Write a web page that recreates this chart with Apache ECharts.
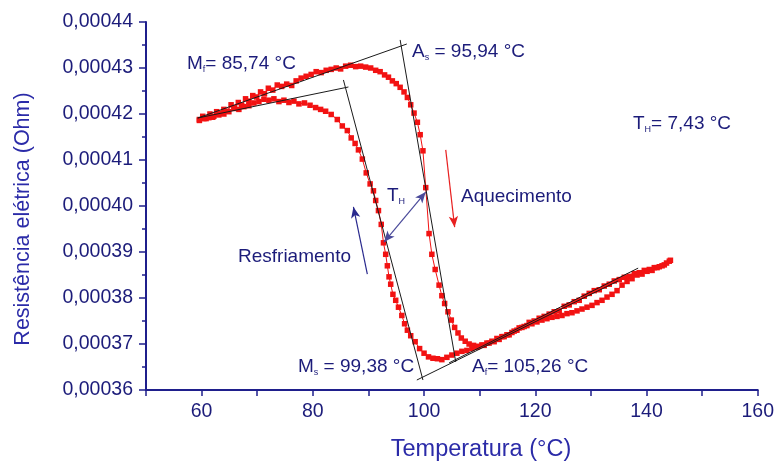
<!DOCTYPE html>
<html><head><meta charset="utf-8">
<script src="https://cdn.jsdelivr.net/npm/echarts@6/dist/echarts.min.js"></script>
<style>html,body{margin:0;padding:0;background:#fff}#c{width:777px;height:461px}</style>
</head><body><div id="c"></div>
<script>
// Heating (Aquecimento) branch: temperature (°C) and resistance (Ohm)
const heatT = [59.6,60.2,60.8,61.5,62.0,62.7,63.3,64.0,64.6,65.3,65.9,66.6,67.2,67.9,68.5,69.2,69.9,70.6,71.3,72.0,72.8,73.6,74.4,75.3,76.2,77.0,77.9,78.8,79.7,80.6,81.5,82.4,83.3,84.2,85.0,85.9,86.8,87.7,88.6,89.5,90.4,91.3,92.1,92.9,93.6,94.3,95.0,95.7,96.4,97.0,97.6,98.2,98.8,99.3,99.8,100.3,100.9,101.4,102.0,102.7,103.2,103.7,104.3,104.9,105.5,106.1,106.7,107.4,108.1,108.9,109.8,110.8,111.7,112.6,113.5,114.4,115.3,116.2,117.1,118.0,118.9,119.8,120.7,121.6,122.5,123.4,124.3,125.2,126.1,127.0,127.9,128.8,129.7,130.6,131.5,132.4,133.3,134.2,135.1,136.0,136.9,137.8,138.7,139.6,140.5,141.4,142.3,143.2,144.1];
const heatR = [4.188e-4,4.195e-4,4.190e-4,4.200e-4,4.193e-4,4.205e-4,4.202e-4,4.210e-4,4.206e-4,4.220e-4,4.214e-4,4.225e-4,4.219e-4,4.233e-4,4.228e-4,4.240e-4,4.237e-4,4.248e-4,4.244e-4,4.256e-4,4.252e-4,4.263e-4,4.260e-4,4.265e-4,4.262e-4,4.272e-4,4.278e-4,4.282e-4,4.286e-4,4.292e-4,4.290e-4,4.295e-4,4.297e-4,4.300e-4,4.298e-4,4.304e-4,4.306e-4,4.303e-4,4.304e-4,4.302e-4,4.300e-4,4.295e-4,4.292e-4,4.285e-4,4.280e-4,4.272e-4,4.266e-4,4.258e-4,4.248e-4,4.236e-4,4.220e-4,4.202e-4,4.182e-4,4.155e-4,4.120e-4,4.040e-4,3.940e-4,3.895e-4,3.862e-4,3.828e-4,3.805e-4,3.788e-4,3.770e-4,3.752e-4,3.736e-4,3.724e-4,3.713e-4,3.706e-4,3.700e-4,3.697e-4,3.695e-4,3.697e-4,3.702e-4,3.705e-4,3.710e-4,3.716e-4,3.720e-4,3.728e-4,3.735e-4,3.738e-4,3.747e-4,3.750e-4,3.756e-4,3.760e-4,3.765e-4,3.770e-4,3.772e-4,3.782e-4,3.785e-4,3.792e-4,3.795e-4,3.804e-4,3.810e-4,3.816e-4,3.818e-4,3.826e-4,3.830e-4,3.837e-4,3.840e-4,3.845e-4,3.847e-4,3.853e-4,3.855e-4,3.860e-4,3.862e-4,3.866e-4,3.868e-4,3.872e-4,3.880e-4];
// Cooling (Resfriamento) branch
const coolT = [144.3,143.6,142.8,141.9,141.0,140.1,139.2,138.3,137.4,136.5,135.6,134.7,133.8,132.9,132.0,131.1,130.2,129.3,128.4,127.5,126.6,125.7,124.8,123.9,123.0,122.1,121.2,120.3,119.4,118.5,117.6,116.7,115.8,114.9,114.0,113.1,112.2,111.3,110.4,109.5,108.6,107.7,106.8,105.9,105.0,104.1,103.2,102.4,101.6,100.8,100.0,99.2,98.4,97.6,97.0,96.5,96.0,95.4,94.9,94.4,94.0,93.7,93.4,93.1,92.7,92.3,91.8,91.3,90.9,90.3,89.6,88.9,88.2,87.6,86.9,86.2,85.3,84.4,83.3,82.3,81.4,80.5,79.5,78.5,77.5,76.6,75.7,74.8,73.9,73.0,72.1,71.2,70.3,69.4,68.5,67.6,66.7,65.8,64.9,64.0,63.1,62.2,61.3,60.4,59.6];
const coolR = [3.882e-4,3.876e-4,3.870e-4,3.866e-4,3.860e-4,3.858e-4,3.852e-4,3.850e-4,3.842e-4,3.836e-4,3.828e-4,3.816e-4,3.808e-4,3.802e-4,3.795e-4,3.790e-4,3.784e-4,3.780e-4,3.776e-4,3.772e-4,3.768e-4,3.766e-4,3.762e-4,3.760e-4,3.758e-4,3.755e-4,3.752e-4,3.748e-4,3.744e-4,3.740e-4,3.736e-4,3.730e-4,3.725e-4,3.720e-4,3.716e-4,3.712e-4,3.706e-4,3.702e-4,3.698e-4,3.693e-4,3.690e-4,3.686e-4,3.684e-4,3.680e-4,3.676e-4,3.671e-4,3.666e-4,3.668e-4,3.669e-4,3.672e-4,3.680e-4,3.690e-4,3.705e-4,3.718e-4,3.730e-4,3.744e-4,3.762e-4,3.780e-4,3.795e-4,3.808e-4,3.830e-4,3.846e-4,3.870e-4,3.895e-4,3.920e-4,3.960e-4,3.990e-4,4.012e-4,4.033e-4,4.048e-4,4.072e-4,4.102e-4,4.122e-4,4.136e-4,4.148e-4,4.164e-4,4.174e-4,4.188e-4,4.199e-4,4.206e-4,4.210e-4,4.214e-4,4.219e-4,4.224e-4,4.222e-4,4.228e-4,4.225e-4,4.230e-4,4.227e-4,4.233e-4,4.230e-4,4.232e-4,4.227e-4,4.224e-4,4.218e-4,4.216e-4,4.210e-4,4.212e-4,4.205e-4,4.200e-4,4.198e-4,4.195e-4,4.192e-4,4.190e-4,4.186e-4];
// Tangent construction lines [T, R] endpoints
const heatTopLine = [[59.3, 4.1913e-4], [96.9, 4.3522e-4]];
const heatSteepLine = [[95.7, 4.3610e-4], [105.7, 3.6610e-4]];
const heatBottomLine = [[104.5, 3.6590e-4], [138.5, 3.8650e-4]];
const coolTopLine = [[59.3, 4.1913e-4], [86.4, 4.2587e-4]];
const coolSteepLine = [[85.5, 4.2740e-4], [99.8, 3.6217e-4]];
const coolBottomLine = [[98.7, 3.6217e-4], [134.9, 3.8370e-4]];
// Arrows [from, to]
const arrowTH = [[92.8, 3.9217e-4], [100.3, 4.0304e-4]];
const arrowCool = [[89.8, 3.8520e-4], [87.3, 3.9980e-4]];
const arrowHeat = [[103.9, 4.1220e-4], [105.5, 3.9540e-4]];
// Texts
const yTitle = 'Resistência elétrica (Ohm)';
const xTitle = 'Temperatura (°C)';

const ink = '#1c1c7a';
const FONT = '"Liberation Sans", Arial, sans-serif';
const chart = echarts.init(document.getElementById('c'), null, {renderer: 'canvas'});

const pairs = (a, b) => a.map((t, i) => [t, b[i]]);
const lineSeries = (d) => ({type: 'line', data: d, symbol: 'none', silent: true, z: 4,
  lineStyle: {color: '#1a1a1a', width: 1}});
const arrowSeries = (d, color, both) => ({type: 'line', data: [], silent: true, z: 5,
  markLine: {silent: true, animation: false, symbol: [both ? 'arrow' : 'none', 'arrow'], symbolSize: [7, 11],
    label: {show: false}, lineStyle: {type: 'solid', color: color, width: 1.2},
    data: [[{coord: d[0]}, {coord: d[1]}]]}});
const dataSeries = (d) => ({type: 'line', data: d, symbol: 'rect', symbolSize: 5.5, showAllSymbol: true, z: 3,
  itemStyle: {color: '#f21212'}, lineStyle: {color: '#f21212', width: 1}});

function rtext(x, y, str, size) {
  return {type: 'text', x: x, y: y, z: 10, style: {text: str, font: size + 'px ' + FONT, fill: ink,
    verticalAlign: 'middle', align: 'left',
    rich: {m: {fontSize: size, fontFamily: FONT, fill: ink},
           s: {fontSize: 9, fontFamily: FONT, fill: ink, verticalAlign: 'bottom', padding: [12, 0, 0, 0]}}}};
}

chart.setOption({
  animation: false,
  backgroundColor: '#fff',
  grid: {left: 146, right: 17, top: 22, bottom: 71, containLabel: false},
  xAxis: {type: 'value', min: 50, max: 160, interval: 10,
    axisLine: {show: true, onZero: false, lineStyle: {color: '#1f1f8c', width: 2}},
    axisTick: {show: true, length: 6, lineStyle: {color: '#1f1f8c', width: 1.5}},
    axisLabel: {formatter: v => (v % 20 === 0 ? String(v) : ''), fontSize: 19.5, fontFamily: FONT, color: ink, margin: 12},
    splitLine: {show: false}},
  yAxis: {type: 'value', min: 0.00036, max: 0.00044, interval: 0.00001,
    axisLine: {show: true, onZero: false, lineStyle: {color: '#1f1f8c', width: 2}},
    axisTick: {show: true, length: 7, lineStyle: {color: '#1f1f8c', width: 1.5}},
    minorTick: {show: true, splitNumber: 2, length: 4, lineStyle: {color: '#1f1f8c', width: 1.5}},
    axisLabel: {formatter: v => v.toFixed(5).replace('.', ','), fontSize: 19.5, fontFamily: FONT, color: ink, margin: 13},
    splitLine: {show: false}, minorSplitLine: {show: false}},
  series: [
    dataSeries(pairs(heatT, heatR)),
    dataSeries(pairs(coolT, coolR)),
    lineSeries(heatTopLine), lineSeries(heatSteepLine), lineSeries(heatBottomLine),
    lineSeries(coolTopLine), lineSeries(coolSteepLine), lineSeries(coolBottomLine),
    arrowSeries(arrowTH, '#4a4a9a', true),
    arrowSeries(arrowCool, '#2a2a8e', false),
    arrowSeries(arrowHeat, '#e82020', false)
  ],
  graphic: [
    {type: 'text', x: 23, y: 219, rotation: Math.PI / 2, z: 10,
      style: {text: yTitle, font: '21.5px ' + FONT, fill: '#2b2ba8', align: 'center', verticalAlign: 'middle'}},
    {type: 'text', x: 481, y: 450, z: 10,
      style: {text: xTitle, font: '23.5px ' + FONT, fill: '#2b2ba8', align: 'center', verticalAlign: 'middle'}},
    rtext(187, 64, '{m|M}{s|f}{m|= 85,74 °C}', 19),
    rtext(412, 52, '{m|A}{s|s}{m| = 95,94 °C}', 19),
    rtext(633, 124, '{m|T}{s|H}{m|= 7,43 °C}', 19),
    rtext(387, 196, '{m|T}{s|H}', 19),
    rtext(461, 197, '{m|Aquecimento}', 19),
    rtext(238, 257, '{m|Resfriamento}', 19),
    rtext(298, 367, '{m|M}{s|s}{m| = 99,38 °C}', 19),
    rtext(472, 367, '{m|A}{s|f}{m|= 105,26 °C}', 19)
  ]
});
</script></body></html>
